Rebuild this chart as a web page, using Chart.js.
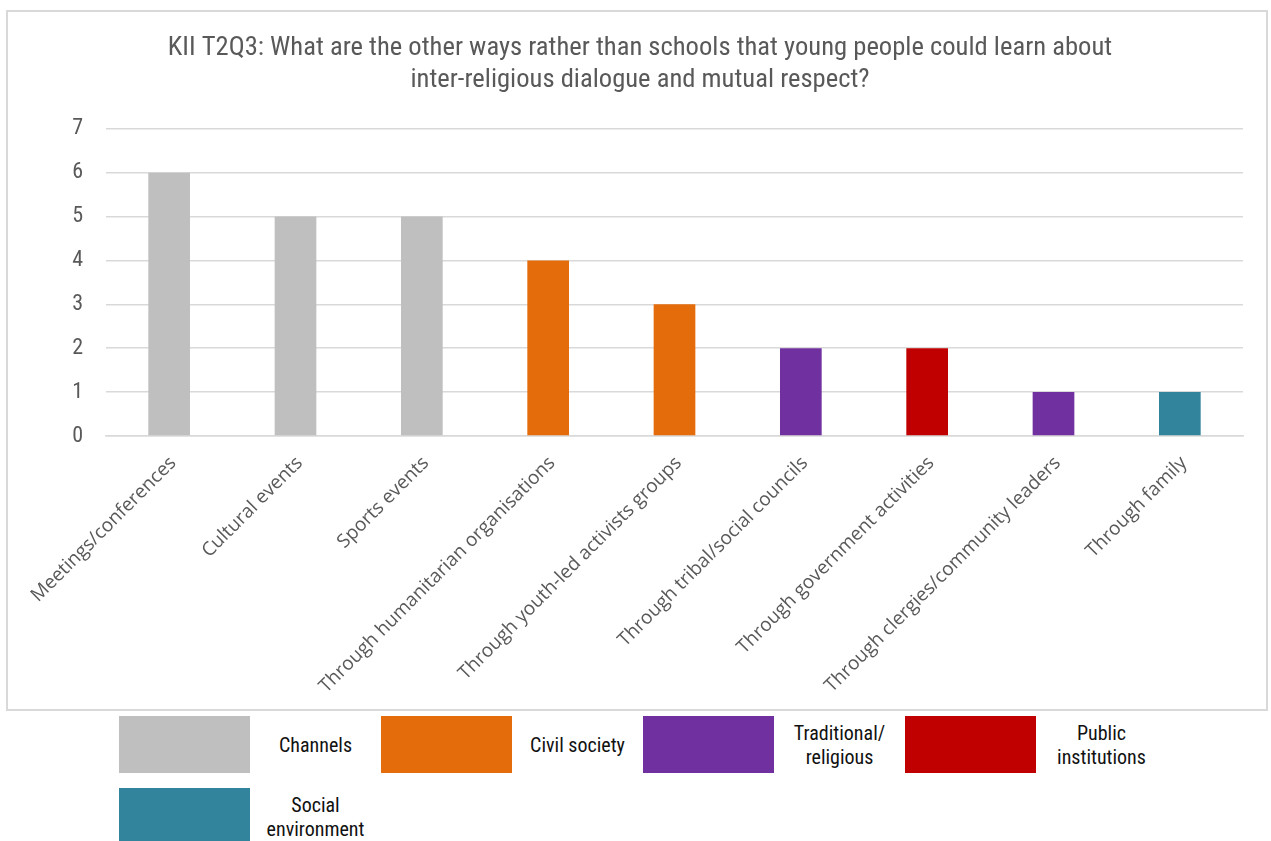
<!DOCTYPE html>
<html>
<head>
<meta charset="utf-8">
<script src="https://cdn.jsdelivr.net/npm/chart.js@4.4.0/dist/chart.umd.min.js"></script>
<style>
    body { margin: 0; background: #fff; width: 1271px; height: 841px; overflow: hidden; position: relative; }
    #chartBox {
        position: absolute; left: 6px; top: 10px; width: 1262px; height: 701px;
        box-sizing: border-box; border: 2px solid #d9d9d9;
    }
    #legend {
        position: absolute; left: 119px; top: 716px; width: 1060px;
        display: flex; flex-wrap: wrap; row-gap: 15px;
        font-family: "Roboto Condensed", Roboto, sans-serif; font-size: 20px; color: #111;
    }
    .legend-item { display: flex; width: 262px; height: 57px; }
    .legend-swatch { width: 131px; height: 57px; }
    .legend-text {
        width: 131px; display: flex; align-items: center; justify-content: center;
        text-align: center; line-height: 24px;
    }
</style>
</head>
<body>
<div id="chartBox"><canvas id="chart"></canvas></div>
<div id="legend"></div>
<script>
const titleLines = [
    'KII T2Q3: What are the other ways rather than schools that young people could learn about',
    'inter-religious dialogue and mutual respect?'
];
const categories = [
    'Meetings/conferences',
    'Cultural events',
    'Sports events',
    'Through humanitarian organisations',
    'Through youth-led activists groups',
    'Through tribal/social councils',
    'Through government activities',
    'Through clergies/community leaders',
    'Through family'
];
const counts = [6, 5, 5, 4, 3, 2, 2, 1, 1];
const categoryGroups = [
    'Channels', 'Channels', 'Channels',
    'Civil society', 'Civil society',
    'Traditional/religious', 'Public institutions', 'Traditional/religious',
    'Social environment'
];
const groups = ['Channels', 'Civil society', 'Traditional/religious', 'Public institutions', 'Social environment'];
const groupLabels = ['Channels', 'Civil society', 'Traditional/<br>religious', 'Public<br>institutions', 'Social<br>environment'];
const groupColors = ['#bfbfbf', '#e46c0a', '#7030a0', '#c00000', '#31849b'];
const yTicks = [0, 1, 2, 3, 4, 5, 6, 7];

const colorOf = g => groupColors[groups.indexOf(g)];

const legendBox = document.getElementById('legend');
groups.forEach((g, i) => {
    const item = document.createElement('div');
    item.className = 'legend-item';
    item.innerHTML = `
        <div class="legend-swatch" style="background:${groupColors[i]}"></div>
        <div class="legend-text">${groupLabels[i]}</div>
    `;
    legendBox.appendChild(item);
});

const axisGray = '#595959';
const gridGray = '#d9d9d9';

new Chart(document.getElementById('chart'), {
    type: 'bar',
    data: {
        labels: categories,
        datasets: [{
            data: counts,
            backgroundColor: categoryGroups.map(colorOf),
            barPercentage: 0.33,
            categoryPercentage: 1
        }]
    },
    options: {
        responsive: true,
        maintainAspectRatio: false,
        animation: false,
        // equal side padding keeps the title centred on the box
        layout: { padding: { left: 29, right: 23, top: 0, bottom: 0 } },
        plugins: {
            legend: { display: false },
            tooltip: { enabled: false },
            title: {
                display: true,
                text: titleLines,
                color: axisGray,
                font: { family: '"Roboto Condensed", Roboto, sans-serif', size: 26.6, weight: 'normal', lineHeight: 1.18 },
                padding: { top: 21, bottom: 33 }
            }
        },
        scales: {
            x: {
                grid: { display: false, drawTicks: false },
                border: { color: gridGray, width: 1.5 },
                ticks: {
                    color: axisGray,
                    font: { family: '"Open Sans", sans-serif', size: 19 },
                    minRotation: 45,
                    maxRotation: 45,
                    labelOffset: 4,
                    padding: 16
                },
                afterFit: scale => { scale.height = 273; }
            },
            y: {
                min: 0,
                max: 7,
                grid: { color: gridGray, lineWidth: 1.5, drawTicks: false },
                border: { display: false },
                afterBuildTicks: scale => { scale.ticks = yTicks.map(v => ({ value: v })); },
                ticks: {
                    color: axisGray,
                    font: { family: '"Roboto Condensed", Roboto, sans-serif', size: 22 },
                    padding: 23
                },
                afterFit: scale => { scale.width = 69; }
            }
        }
    }
});
</script>
</body>
</html>
